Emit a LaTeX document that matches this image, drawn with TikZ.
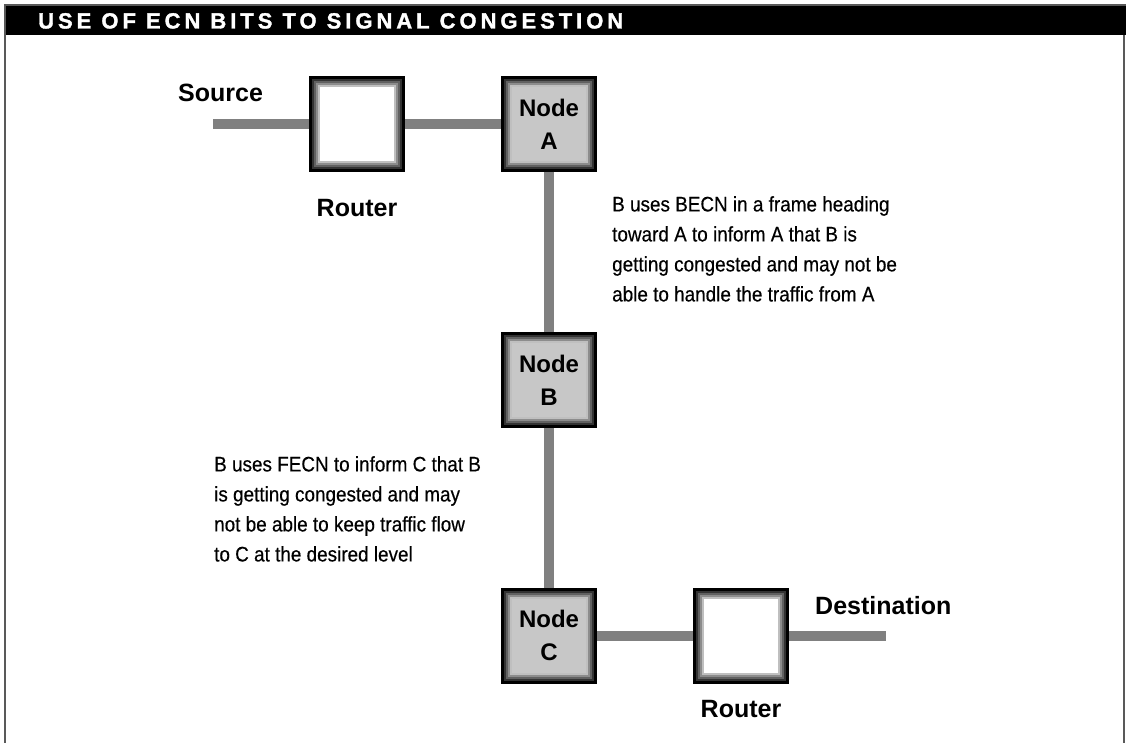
\documentclass[tikz,border=0pt]{standalone}
\usepackage{fontspec}
\setmainfont{Liberation Sans}
\newfontfamily\notefont[FakeStretch=0.9,FakeBold=0.4]{Liberation Sans}
\newfontfamily\bannerfont[LetterSpace=18,FakeBold=1.5]{Liberation Sans Bold}
\begin{document}
\begin{tikzpicture}[x=1pt,y=-1pt,
  wire/.style={draw=gray, line width=10pt},
  bevel/.style={path picture={
    \foreach \inset/\shade in {2.5/black!80, 4.5/black!62, 6.5/black!45, 8.5/black!25}
      \draw[\shade, line width=2pt]
        ([shift={(\inset pt,-\inset pt)}]path picture bounding box.north west) rectangle
        ([shift={(-\inset pt,\inset pt)}]path picture bounding box.south east);
  }},
  box/.style={draw=black, line width=3pt, minimum size=93pt, inner sep=0pt, bevel},
  router/.style={box, fill=white},
  station/.style={box, fill=black!22, align=center,
    font=\bfseries\fontsize{24}{33}\selectfont},
  lbl/.style={inner sep=0pt, font=\bfseries\fontsize{25}{30}\selectfont},
  note/.style={inner sep=0pt, anchor=north west, align=left,
    font=\notefont\fontsize{21}{30}\selectfont}]
  \useasboundingbox (0,0) rectangle (1126,743);
  % frame and title bar
  \fill[black] (5,5) rectangle (1126,35);
  \draw[black!65, line width=2pt] (5,743) -- (5,5) -- (1126,5);
  \draw[black!65, line width=2pt] (1124,35) -- (1124,743);
  \node[anchor=base west, inner sep=0pt, text=white,
    font=\bannerfont\fontsize{22}{25}\selectfont] (banner) at (38,28.5)
    {USE OF ECN BITS TO SIGNAL CONGESTION};
  % routers and frame relay nodes
  \node[router] (router1) at (357,124) {};
  \node[station] (nodeA) at (549,124) {Node\\A};
  \node[station] (nodeB) at (549,380) {Node\\B};
  \node[station] (nodeC) at (549,635.5) {Node\\C};
  \node[router] (router2) at (741,635.5) {};
  \coordinate (src) at (213,124);
  \coordinate (dst) at (886,635.5);
  % links
  \draw[wire] (src) -- (router1);
  \draw[wire] (router1) -- (nodeA);
  \draw[wire] (nodeA) -- (nodeB);
  \draw[wire] (nodeB) -- (nodeC);
  \draw[wire] (nodeC) -- (router2);
  \draw[wire] (router2) -- (dst);
  % labels
  \node[lbl, anchor=base west] (srclbl) at (178,102) {Source};
  \node[lbl, anchor=base] (r1lbl) at (357,217) {Router};
  \node[lbl, anchor=base west] (dstlbl) at (815,614) {Destination};
  \node[lbl, anchor=base] (r2lbl) at (741,717) {Router};
  % notes
  \node[note] (becn) at (612,196) {B uses BECN in a frame heading\\toward A to inform A that B is\\getting congested and may not be\\able to handle the traffic from A};
  \node[note] (fecn) at (214,456) {B uses FECN to inform C that B\\is getting congested and may\\not be able to keep traffic flow\\to C at the desired level};
\end{tikzpicture}
\end{document}
